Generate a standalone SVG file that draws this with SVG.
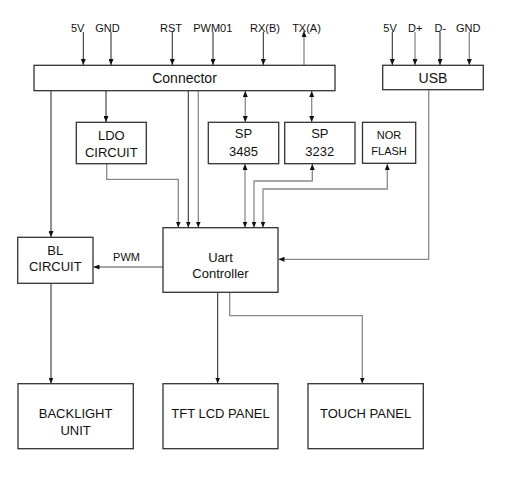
<svg xmlns="http://www.w3.org/2000/svg" width="505" height="491" viewBox="0 0 505 491">
<defs>
<marker id="ah" viewBox="0 0 6 5" refX="6" refY="2.5" markerWidth="6" markerHeight="5" orient="auto-start-reverse" markerUnits="userSpaceOnUse">
<path d="M0,0 L6,2.5 L0,5 z" fill="#111"/>
</marker>
</defs>
<style>
.box{fill:#fff;stroke:#333;stroke-width:1.3}
.t{font-family:"Liberation Sans",Arial,sans-serif;font-size:13px;fill:#111;text-anchor:middle}
.s{font-family:"Liberation Sans",Arial,sans-serif;font-size:11px;fill:#111;text-anchor:middle}
.k{fill:none;stroke:#222;stroke-width:1}
.g{fill:none;stroke:#8a8a8a;stroke-width:1.3}
</style>
<rect width="505" height="491" fill="#fff"/>
<g id="connectors">
<path class="k" d="M83.3,32 V65" marker-end="url(#ah)"/>
<path class="k" d="M111,32 V65" marker-end="url(#ah)"/>
<path class="k" d="M172.3,32 V65" marker-end="url(#ah)"/>
<path class="k" d="M213,32 V65" marker-end="url(#ah)"/>
<path class="k" d="M263.3,32 V65" marker-end="url(#ah)"/>
<path class="g" d="M304,65 V31" marker-end="url(#ah)"/>
<path class="k" d="M392.3,32 V65" marker-end="url(#ah)"/>
<path class="g" d="M415,32 V65" marker-end="url(#ah)"/>
<path class="k" d="M440,32 V65" marker-end="url(#ah)"/>
<path class="g" d="M469.3,32 V65" marker-end="url(#ah)"/>
<path class="k" d="M106,91 V122" marker-end="url(#ah)"/>
<path class="g" d="M245.3,91 V122" marker-start="url(#ah)" marker-end="url(#ah)"/>
<path class="g" d="M311.7,91 V122" marker-start="url(#ah)" marker-end="url(#ah)"/>
<path class="k" d="M51,91 V237" marker-end="url(#ah)"/>
<path class="g" d="M106.7,164 V179.3 H178.3 V227.5" marker-end="url(#ah)"/>
<path class="k" d="M188.3,91 V227.5" marker-end="url(#ah)"/>
<path class="g" d="M198.3,91 V227.5" marker-end="url(#ah)"/>
<path class="g" d="M245,164 V227.5" marker-start="url(#ah)" marker-end="url(#ah)"/>
<path class="g" d="M254,227.5 V181 H312.3 V164" marker-start="url(#ah)" marker-end="url(#ah)"/>
<path class="g" d="M263,227.5 V189 H387.3 V164" marker-start="url(#ah)" marker-end="url(#ah)"/>
<path class="g" d="M428.7,90 V259.3 H278.5" marker-end="url(#ah)"/>
<path class="g" d="M163,267 H93.5" marker-end="url(#ah)"/>
<path class="k" d="M51,283.5 V383.5" marker-end="url(#ah)"/>
<path class="k" d="M217.7,292.5 V383.5" marker-end="url(#ah)"/>
<path class="g" d="M229.7,292.5 V315.7 H362.3 V383.5" marker-end="url(#ah)"/>
</g>
<g id="labels">
<text class="s" x="77.7" y="32">5V</text>
<text class="s" x="107.5" y="32">GND</text>
<text class="s" x="171" y="32">RST</text>
<text class="s" x="212.8" y="32">PWM01</text>
<text class="s" x="265" y="32">RX(B)</text>
<text class="s" x="306.5" y="32">TX(A)</text>
<text class="s" x="390" y="32">5V</text>
<text class="s" x="415.3" y="32">D+</text>
<text class="s" x="440.3" y="32">D-</text>
<text class="s" x="468.3" y="32">GND</text>
<text class="s" x="126.5" y="261">PWM</text>
</g>
<g id="connector">
<rect class="box" x="34" y="65.3" width="301" height="25.4"/>
<text class="t" x="184.5" y="83" style="font-size:14px">Connector</text>
</g>
<g id="usb">
<rect class="box" x="382.7" y="65.3" width="100.6" height="24.4"/>
<text class="t" x="433" y="82.5" style="font-size:14px">USB</text>
</g>
<g id="ldo">
<rect class="box" x="76.3" y="122.3" width="70" height="41.4"/>
<text class="t" x="111.3" y="139.5">LDO</text>
<text class="t" x="111.3" y="156.5">CIRCUIT</text>
</g>
<g id="sp3485">
<rect class="box" x="208.3" y="122.3" width="70.4" height="41.4"/>
<text class="t" x="243.5" y="138">SP</text>
<text class="t" x="243.5" y="156">3485</text>
</g>
<g id="sp3232">
<rect class="box" x="284.7" y="122.3" width="70.3" height="41.4"/>
<text class="t" x="319.8" y="138">SP</text>
<text class="t" x="319.8" y="156">3232</text>
</g>
<g id="norflash">
<rect class="box" x="362.5" y="122.3" width="53.2" height="41"/>
<text class="s" x="389.1" y="139">NOR</text>
<text class="s" x="389.1" y="155">FLASH</text>
</g>
<g id="bl">
<rect class="box" x="17.7" y="237.3" width="75.3" height="46"/>
<text class="t" x="55.3" y="254.5">BL</text>
<text class="t" x="55.3" y="271">CIRCUIT</text>
</g>
<g id="uart">
<rect class="box" x="163" y="227.7" width="115" height="64.6"/>
<text class="t" x="220.5" y="262">Uart</text>
<text class="t" x="220.5" y="277.8">Controller</text>
</g>
<g id="backlight">
<rect class="box" x="18" y="383.7" width="115.3" height="65"/>
<text class="t" x="75.6" y="417.5">BACKLIGHT</text>
<text class="t" x="75.6" y="434.5">UNIT</text>
</g>
<g id="tft">
<rect class="box" x="163" y="383.7" width="115" height="65"/>
<text class="t" x="220.5" y="417.5">TFT LCD PANEL</text>
</g>
<g id="touch">
<rect class="box" x="308" y="383.7" width="115.3" height="65"/>
<text class="t" x="365.6" y="417.5">TOUCH PANEL</text>
</g>
</svg>
